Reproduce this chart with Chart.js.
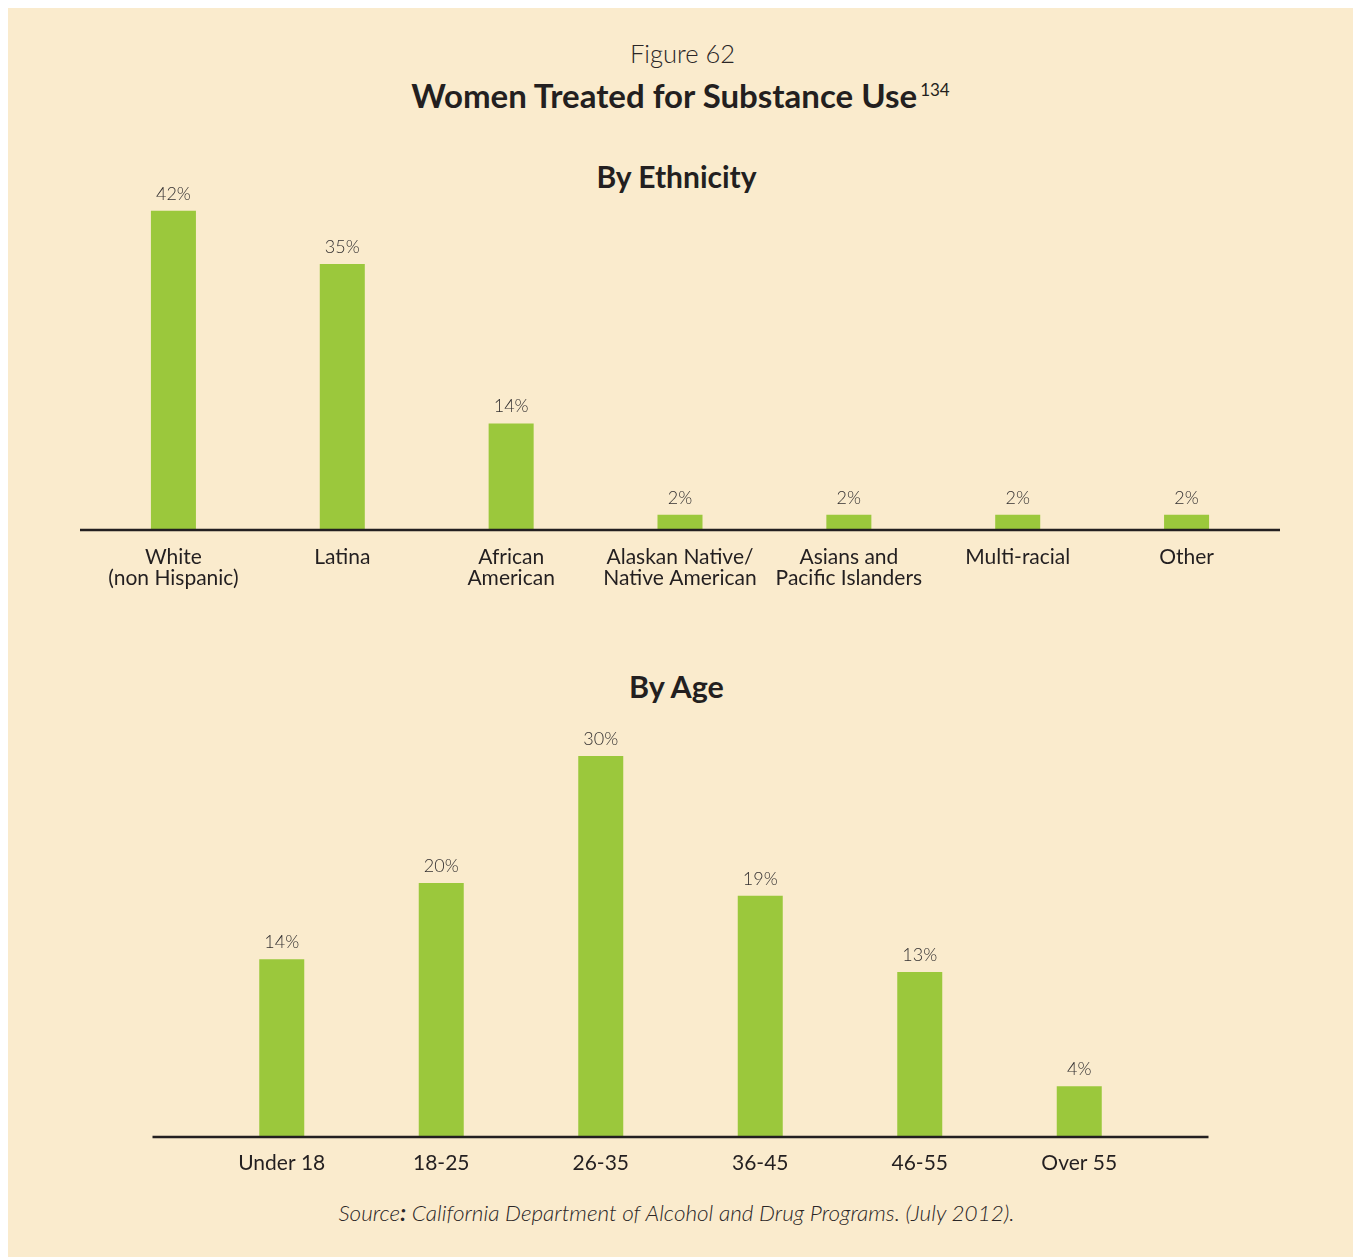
<!DOCTYPE html>
<html>
<head>
<meta charset="utf-8">
<script src="https://cdn.jsdelivr.net/npm/chart.js@4.4.1/dist/chart.umd.min.js"></script>
<style>
  html, body { margin: 0; padding: 0; background: #ffffff; }
  body { width: 1353px; height: 1257px; position: relative; overflow: hidden; font-family: Lato, "Open Sans", sans-serif; }
  #panel { position: absolute; left: 8px; top: 8px; width: 1345px; height: 1249px; background: #FAEBCD; }
  .t { position: absolute; left: 0; width: 1353px; text-align: center; color: #231F20; white-space: nowrap; }
  #fig { top: 38px; height: 30px; line-height: 30px; font-size: 25.5px; font-weight: 300; color: #2a2627; padding-left: 6px; }
  #main { top: 76px; height: 38px; line-height: 38px; font-size: 33px; font-weight: 700; padding-left: 4px; }
  #main sup { font-size: 17px; font-weight: 400; vertical-align: 0; position: relative; top: -12px; margin-left: 3px; }
  #sub1 { top: 158px; height: 36px; line-height: 36px; font-size: 30px; font-weight: 700; }
  #sub2 { top: 668px; height: 36px; line-height: 36px; font-size: 30.5px; font-weight: 700; }
  #src { top: 1200px; height: 26px; line-height: 26px; font-size: 22.5px; font-style: italic; font-weight: 300; color: #2a2627; }
  #src b { font-weight: 700; }
  canvas { position: absolute; left: 0; }
  #c1 { top: 140px; }
  #c2 { top: 715px; }
</style>
</head>
<body>
<div id="panel"></div>
<div class="t" id="fig">Figure 62</div>
<div class="t" id="main">Women Treated for Substance Use<sup>134</sup></div>
<div class="t" id="sub1">By Ethnicity</div>
<div class="t" id="sub2">By Age</div>
<div class="t" id="src">Source<b>:</b> California Department of Alcohol and Drug Programs. (July 2012).</div>
<canvas id="c1" width="1353" height="480"></canvas>
<canvas id="c2" width="1353" height="480"></canvas>
<script>
// ---- Data ----
const ethnicityLabels = [
  ["White", "(non Hispanic)"],
  "Latina",
  ["African", "American"],
  ["Alaskan Native/", "Native American"],
  ["Asians and", "Pacific Islanders"],
  "Multi-racial",
  "Other"
];
const ethnicityValues = [42, 35, 14, 2, 2, 2, 2];

const ageLabels = ["Under 18", "18-25", "26-35", "36-45", "46-55", "Over 55"];
const ageValues = [14, 20, 30, 19, 13, 4];

// ---- Styling ----
const BAR_COLOR = "#9BC83C";
const TEXT_COLOR = "#231F20";
const FONT = "Lato, 'Open Sans', sans-serif";

const valueLabelPlugin = {
  id: "valueLabels",
  afterDatasetsDraw(chart) {
    const ctx = chart.ctx;
    ctx.save();
    ctx.font = "300 18px " + FONT;
    ctx.fillStyle = "#333031";
    ctx.textAlign = "center";
    ctx.textBaseline = "middle";
    chart.data.datasets.forEach((ds, di) => {
      chart.getDatasetMeta(di).data.forEach((el, i) => {
        ctx.fillText(ds.data[i] + "%", el.x, el.y - 17);
      });
    });
    ctx.restore();
  }
};

const baselinePlugin = {
  id: "baseline",
  afterDatasetsDraw(chart, args, opts) {
    const ctx = chart.ctx;
    const a = chart.chartArea;
    const y = chart.scales.y.getPixelForValue(0);
    ctx.save();
    ctx.strokeStyle = "#231F20";
    ctx.lineWidth = 2.5;
    ctx.beginPath();
    ctx.moveTo(a.left - opts.extend, y);
    ctx.lineTo(a.right + opts.extend, y);
    ctx.stroke();
    ctx.restore();
  }
};

function makeChart(id, labels, values, cfg) {
  return new Chart(document.getElementById(id), {
    type: "bar",
    data: {
      labels: labels,
      datasets: [{
        data: values,
        backgroundColor: BAR_COLOR,
        borderWidth: 0,
        categoryPercentage: 1,
        barPercentage: cfg.barPct
      }]
    },
    options: {
      responsive: false,
      animation: false,
      devicePixelRatio: 1,
      layout: { padding: cfg.padding },
      plugins: {
        legend: { display: false },
        tooltip: { enabled: false },
        baseline: { extend: cfg.extend }
      },
      scales: {
        x: {
          offset: true,
          grid: { display: false, drawTicks: false },
          border: { display: false },
          ticks: {
            color: TEXT_COLOR,
            font: { family: FONT, size: 21, lineHeight: 1.0 },
            padding: cfg.tickPad,
            maxRotation: 0,
            autoSkip: false
          },
          afterFit(scale) { scale.height = cfg.axisH; }
        },
        y: {
          display: false,
          min: 0,
          max: cfg.max
        }
      }
    },
    plugins: [valueLabelPlugin, baselinePlugin]
  });
}

makeChart("c1", ethnicityLabels, ethnicityValues, {
  barPct: 45 / 168.8,
  padding: { left: 89, right: 82, top: 10, bottom: 10 },
  axisH: 80,
  tickPad: 16.5,
  max: 50,
  extend: 9
});

makeChart("c2", ageLabels, ageValues, {
  barPct: 45 / 159.5,
  padding: { left: 202, right: 194, top: 15.6, bottom: 8 },
  axisH: 50,
  tickPad: 15.5,
  max: 32,
  extend: 49.5
});
</script>
</body>
</html>
